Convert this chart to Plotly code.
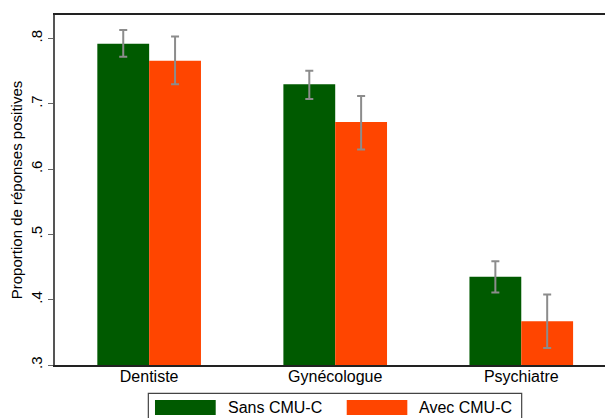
import plotly.graph_objects as go

categories = ["Dentiste", "Gynécologue", "Psychiatre"]
series_names = ["Sans CMU-C", "Avec CMU-C"]
sans_values = [0.792, 0.730, 0.435]
sans_low = [0.772, 0.7075, 0.411]
sans_high = [0.813, 0.7505, 0.459]
avec_values = [0.766, 0.672, 0.367]
avec_low = [0.730, 0.630, 0.326]
avec_high = [0.803, 0.712, 0.408]
ytick_vals = [0.3, 0.4, 0.5, 0.6, 0.7, 0.8]
ytick_text = [".3", ".4", ".5", ".6", ".7", ".8"]
colors = ["#005A00", "#FF4500"]

FONT = "Liberation Sans, Arial, sans-serif"

fig = go.Figure()
for name, vals, lo, hi, col in [
    (series_names[0], sans_values, sans_low, sans_high, colors[0]),
    (series_names[1], avec_values, avec_low, avec_high, colors[1]),
]:
    fig.add_trace(go.Bar(
        x=categories, y=vals, name=name,
        marker=dict(color=col, line=dict(width=0)),
        error_y=dict(type="data", symmetric=False,
                     array=[h - v for h, v in zip(hi, vals)],
                     arrayminus=[v - l for v, l in zip(vals, lo)],
                     color="#8C8C8C", thickness=2, width=4),
        showlegend=False,
    ))

fig.update_layout(
    width=605, height=418,
    margin=dict(l=55, r=0, t=15, b=53),
    paper_bgcolor="white", plot_bgcolor="white",
    barmode="group", bargap=0.443, bargroupgap=0,
    font=dict(family=FONT, size=15, color="black"),
    xaxis=dict(range=[-0.506, 2.45], showline=True, linecolor="#222", linewidth=1.5,
               mirror=True, ticks="", showgrid=False, ticklabelstandoff=-4,
               tickfont=dict(size=16, family=FONT)),
    yaxis=dict(range=[0.3, 0.836], tickvals=ytick_vals, ticktext=ytick_text,
               tickangle=-90, ticks="outside", ticklen=5, tickcolor="#666",
               showline=True, linecolor="#555", linewidth=1.5,
               showgrid=False, zeroline=False,
               tickfont=dict(size=15, family=FONT),
               title=dict(text="Proportion de réponses positives",
                          font=dict(size=15, family=FONT), standoff=2)),
)

# custom legend (box with wide swatches)
fig.add_shape(type="rect", xref="paper", yref="paper",
              x0=0.1697, x1=0.8485, y0=-0.081, y1=-0.2,
              line=dict(color="#444", width=1.2), fillcolor="white")
swatch_x = [(0.1818, 0.2922), (0.5304, 0.6406)]
text_x = [0.3109, 0.6588]
for i, name in enumerate(series_names):
    fig.add_shape(type="rect", xref="paper", yref="paper",
                  x0=swatch_x[i][0], x1=swatch_x[i][1], y0=-0.1, y1=-0.1429,
                  line=dict(width=0), fillcolor=colors[i])
    fig.add_annotation(xref="paper", yref="paper", x=text_x[i], y=-0.1214,
                       text=name, showarrow=False, xanchor="left", yanchor="middle",
                       font=dict(size=16, family=FONT, color="black"))

fig.write_html("out.html", config={"displayModeBar": False},
               post_script="document.body.style.margin='0';document.body.style.overflow='hidden';")
